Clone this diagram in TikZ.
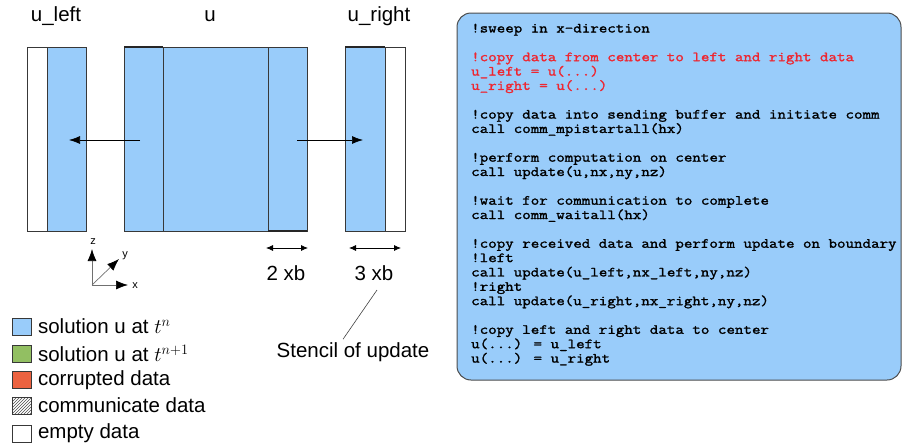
\documentclass[tikz,border=0pt]{standalone}
\usepackage{fontspec}
\setmainfont{Liberation Sans}
\newfontfamily\codefont{Latin Modern Mono}[FakeBold=1.6, FakeStretch=1.18]
\usetikzlibrary{patterns,arrows.meta}

\definecolor{solblue}{HTML}{99CCFA}
\definecolor{solgreen}{HTML}{92BF62}
\definecolor{corrupt}{HTML}{EC6240}
\definecolor{edgegray}{HTML}{383838}
\definecolor{codered}{HTML}{EE2630}
\definecolor{axisgray}{HTML}{707070}

\tikzset{
  x=1pt, y=-1pt,
  cell/.style={draw=edgegray, line width=0.9pt},
  blue cell/.style={cell, fill=solblue},
  empty cell/.style={cell, fill=white},
  edge mark/.style={draw=black!85, line width=1.8pt},
  label text/.style={font=\fontsize{20.5}{24}\selectfont, inner sep=0pt},
  copy arrow/.style={-{Latex[length=11pt,width=8pt]}, line width=0.7pt},
  width arrow/.style={{Latex[length=7pt,width=6pt]}-{Latex[length=7pt,width=6pt]}, line width=0.8pt},
  axis arrow/.style={-{Latex[length=12pt,width=9pt,color=black]}, draw=axisgray, line width=0.7pt},
  axis label/.style={font=\fontsize{11}{13}\selectfont, inner sep=0pt},
  legend box/.style={draw=edgegray, line width=0.8pt, minimum width=19pt, minimum height=17pt, inner sep=0pt},
  legend text/.style={font=\fontsize{20.5}{24}\selectfont, anchor=west, inner sep=0pt},
  codebox/.style={draw=black!70, line width=1pt, fill=solblue, rounded corners=14pt},
  codeline/.style={font=\codefont\fontsize{14}{14.35}\selectfont, anchor=base west,
    inner sep=0pt, text height=9.5pt, text depth=3pt},
}

\newcommand\codeln[3]{\node[codeline,#3] (c#1) at (471,{32.5+14.35*(#1-1)}) {#2};}

\begin{document}
\begin{tikzpicture}
\useasboundingbox (0,0) rectangle (902,447);

% ---- array blocks ----
% u_left: empty ghost strip + received strip
\draw[empty cell] (27,47) rectangle (47,231);
\draw[blue cell] (47,47) rectangle (86,231);
% u: left boundary strip, interior, right boundary strip
\draw[blue cell] (124,47) rectangle (307,231);
\draw[cell] (163,47) -- (163,231);
\draw[cell] (268,47) -- (268,231);
% u_right: received strip + empty ghost strip
\draw[blue cell] (345,47) rectangle (385,231);
\draw[empty cell] (385,47) rectangle (405,231);
% emphasised strip edges
\draw[edge mark] (124,47) -- (163,47);
\draw[edge mark] (268,231) -- (307,231);
\draw[edge mark] (345,47) -- (385,47);

% block titles
\node[label text] (tleft) at (56,16) {u\_left};
\node[label text] (tu) at (210,16) {u};
\node[label text] (tright) at (379,16) {u\_right};

% copy arrows from the boundary strips of u
\coordinate (srcL) at (140,140);
\coordinate (dstL) at (69,140);
\coordinate (srcR) at (297,140);
\coordinate (dstR) at (363,140);
\draw[copy arrow] (srcL) -- (dstL);
\draw[copy arrow] (srcR) -- (dstR);

% widths of the strips
\coordinate (w2a) at (266,248);
\coordinate (w2b) at (308,248);
\coordinate (w3a) at (349,248);
\coordinate (w3b) at (401,248);
\draw[width arrow] (w2a) -- (w2b);
\draw[width arrow] (w3a) -- (w3b);
\node[label text] (xb2) at (286,273) {2 xb};
\node[label text] (xb3) at (374,273) {3 xb};

% stencil annotation
\node[label text] (stencil) at (353,352) {Stencil of update};
\coordinate (stencilTip) at (377,290);
\draw[line width=0.6pt, draw=black!75] (stencilTip) -- ([xshift=-10pt,yshift=3pt]stencil.north);

% ---- coordinate axes ----
\coordinate (O) at (92,285);
\coordinate (ztip) at (92,249);
\coordinate (xtip) at (128,285);
\coordinate (ytip) at (119,259);
\draw[axis arrow] (O) -- (ztip);
\draw[axis arrow] (O) -- (xtip);
\draw[axis arrow] (O) -- (ytip);
\node[axis label] (zl) at (93,242) {z};
\node[axis label] (yl) at (125,256) {y};
\node[axis label] (xl) at (135,286) {x};

% ---- legend ----
\node[legend box, fill=solblue] (k1) at (22,326.5) {};
\node[legend box, fill=solgreen] (k2) at (22,353.5) {};
\node[legend box, fill=corrupt] (k3) at (22,380) {};
\node[legend box, pattern=north east lines, pattern color=black!70] (k4) at (22,405.5) {};
\node[legend box, fill=white] (k5) at (22,433.5) {};
\node[legend text] (l1) at ([xshift=6pt]k1.east) {solution u at $t^n$};
\node[legend text] (l2) at ([xshift=6pt]k2.east) {solution u at $t^{n+1}$};
\node[legend text] (l3) at ([xshift=6pt]k3.east) {corrupted data};
\node[legend text] (l4) at ([xshift=6pt]k4.east) {communicate data};
\node[legend text] (l5) at ([xshift=6pt]k5.east) {empty data};

% ---- code panel ----
\draw[codebox] (457,13) rectangle (901,380);
\codeln{1}{!sweep in x-direction}{}
\codeln{3}{!copy data from center to left and right data}{text=codered}
\codeln{4}{u\_left = u(...)}{text=codered}
\codeln{5}{u\_right = u(...)}{text=codered}
\codeln{7}{!copy data into sending buffer and initiate comm}{}
\codeln{8}{call comm\_mpistartall(hx)}{}
\codeln{10}{!perform computation on center}{}
\codeln{11}{call update(u,nx,ny,nz)}{}
\codeln{13}{!wait for communication to complete}{}
\codeln{14}{call comm\_waitall(hx)}{}
\codeln{16}{!copy received data and perform update on boundary}{}
\codeln{17}{!left}{}
\codeln{18}{call update(u\_left,nx\_left,ny,nz)}{}
\codeln{19}{!right}{}
\codeln{20}{call update(u\_right,nx\_right,ny,nz)}{}
\codeln{22}{!copy left and right data to center}{}
\codeln{23}{u(...) = u\_left}{}
\codeln{24}{u(...) = u\_right}{}

\end{tikzpicture}
\end{document}
